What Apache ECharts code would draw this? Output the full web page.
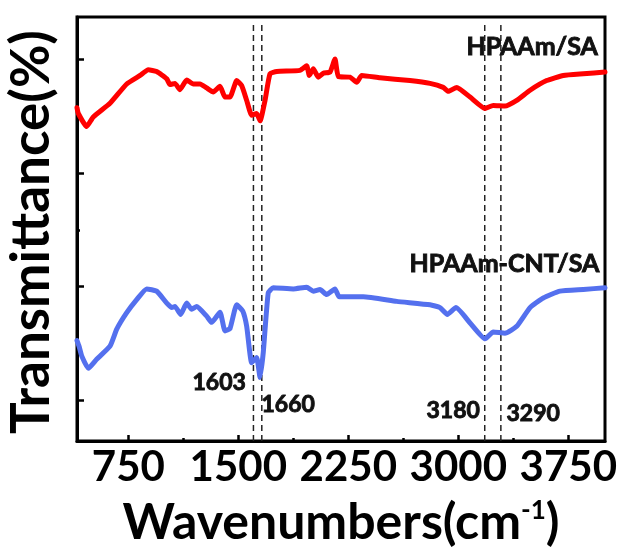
<!DOCTYPE html>
<html>
<head>
<meta charset="utf-8">
<script src="https://cdn.jsdelivr.net/npm/echarts@6/dist/echarts.min.js"></script>
<style>
  html, body { margin: 0; padding: 0; background: #fff; }
  #chart { width: 622px; height: 554px; }
</style>
</head>
<body>
<div id="chart"></div>
<script>
// FTIR spectra
const redWave = [400, 409, 466, 511, 625, 739, 830, 886, 943, 1012, 1034, 1068, 1102, 1148, 1193, 1239, 1284, 1329, 1375, 1409, 1443, 1489, 1523, 1557, 1591, 1625, 1648, 1682, 1716, 1762, 1920, 1966, 1984, 2011, 2045, 2079, 2125, 2159, 2182, 2261, 2307, 2341, 2466, 2670, 2807, 2897, 2932, 2989, 3080, 3182, 3238, 3318, 3398, 3489, 3602, 3716, 3852, 4000];
const redT = [51.5, 50.5, 48.2, 49.9, 52.3, 55.7, 57.2, 58.2, 57.9, 56.6, 55.6, 55.8, 54.7, 56.4, 55.7, 55.7, 55.0, 54.3, 55.3, 53.4, 53.4, 56.3, 55.4, 52.8, 50.2, 50.5, 49.2, 52.8, 57.5, 57.9, 58.1, 58.9, 57.2, 58.4, 56.9, 57.6, 57.8, 60.1, 57.0, 56.9, 56.0, 57.2, 56.8, 56.3, 55.8, 55.1, 54.4, 55.1, 53.4, 51.4, 51.9, 51.8, 52.8, 54.6, 56.3, 57.2, 57.5, 57.8];

const blueWave = [400, 414, 432, 477, 534, 625, 671, 739, 807, 875, 943, 1012, 1046, 1068, 1107, 1148, 1182, 1216, 1284, 1318, 1375, 1409, 1443, 1489, 1530, 1557, 1591, 1625, 1648, 1670, 1704, 1738, 1875, 1966, 2011, 2057, 2102, 2159, 2188, 2352, 2580, 2807, 2875, 2925, 2984, 3080, 3182, 3238, 3318, 3398, 3489, 3579, 3693, 3852, 4000];
const blueT = [10.5, 9.5, 7.8, 5.6, 7.2, 9.5, 12.5, 15.4, 17.7, 19.6, 19.2, 17.1, 16.3, 16.5, 15.1, 17.1, 16.0, 16.5, 14.8, 13.7, 15.5, 12.2, 12.6, 16.8, 15.7, 13.0, 6.6, 7.5, 4.0, 8.4, 18.9, 19.8, 19.6, 19.9, 19.2, 19.5, 18.6, 19.6, 18.2, 18.2, 17.4, 16.8, 16.3, 15.1, 16.3, 13.6, 10.8, 12.0, 11.8, 13.0, 16.3, 18.0, 19.2, 19.5, 19.8];

const peakMarks = [1603, 1660, 3180, 3290];
const xMajorTicks = [750, 1500, 2250, 3000, 3750];
const xMinorTicks = [1125, 1875, 2625, 3375];
const yMajorTicks = [0, 20, 40, 60];
const yMinorTicks = [10, 30, 50];

const X_MIN = 400, X_MAX = 4000, Y_MIN = -7.2, Y_MAX = 67.5;
const FONT = 'Lato';

const zip = (xs, ys) => xs.map((x, i) => [x, ys[i]]);

const chart = echarts.init(document.getElementById('chart'));

const baseX = {
  type: 'value', min: X_MIN, max: X_MAX, position: 'bottom',
  splitLine: {show: false}
};
const baseY = {
  type: 'value', min: Y_MIN, max: Y_MAX, position: 'left',
  splitLine: {show: false}
};

const dashSeries = peakMarks.map(w => ({
  type: 'line',
  xAxisIndex: 0, yAxisIndex: 0,
  data: [[w, Y_MIN], [w, 66.5]],
  showSymbol: false, silent: true,
  lineStyle: {color: '#222', width: 1.5, type: [6, 4]},
  z: 1
}));

function annot(text, left, top, size) {
  return {
    type: 'text', left: left, top: top, z: 10,
    style: {
      text: text, fontFamily: FONT, fontWeight: 'bold', fontSize: size,
      fill: '#111', stroke: '#111', lineWidth: 0.9
    }
  };
}

const option = {
  backgroundColor: '#fff',
  animation: false,
  grid: {
    left: 77, top: 17, right: 17, bottom: 113,
    outerBoundsMode: 'none', containLabel: false,
    show: true, borderColor: '#000', borderWidth: 3
  },
  xAxis: [
    Object.assign({}, baseX, {
      name: '{a|Wavenumbers(cm}{s|-1}{a|)}',
      nameLocation: 'middle', nameGap: 57,
      nameTextStyle: {
        rich: {
          a: {fontFamily: FONT, fontWeight: 'bold', fontSize: 50, color: '#000'},
          s: {fontFamily: FONT, fontWeight: 'bold', fontSize: 26, color: '#000', padding: [0, 0, 24, 0]}
        }
      },
      axisLine: {show: true, onZero: false, lineStyle: {color: '#000', width: 3}},
      axisTick: {show: true, inside: true, length: 6, lineStyle: {color: '#000', width: 2.5}, customValues: xMajorTicks},
      axisLabel: {
        show: true, customValues: xMajorTicks, margin: 5,
        formatter: v => String(v),
        fontFamily: FONT, fontWeight: 'bold', fontSize: 42, color: '#000'
      }
    }),
    Object.assign({}, baseX, {
      axisLine: {show: false, onZero: false},
      axisTick: {show: true, inside: true, length: 3, lineStyle: {color: '#000', width: 2.5}, customValues: xMinorTicks},
      axisLabel: {show: false}
    })
  ],
  yAxis: [
    Object.assign({}, baseY, {
      name: 'Transmittance(%)',
      nameLocation: 'middle', nameGap: 19, nameRotate: 90,
      nameTextStyle: {fontFamily: FONT, fontWeight: 'bold', fontSize: 53, color: '#000', padding: [0, 6, 0, 0]},
      axisLine: {show: true, onZero: false, lineStyle: {color: '#000', width: 3}},
      axisTick: {show: true, inside: true, length: 7, lineStyle: {color: '#000', width: 2.5}, customValues: yMajorTicks},
      axisLabel: {show: false}
    }),
    Object.assign({}, baseY, {
      axisLine: {show: false, onZero: false},
      axisTick: {show: true, inside: true, length: 3, lineStyle: {color: '#000', width: 2.5}, customValues: yMinorTicks},
      axisLabel: {show: false}
    })
  ],
  series: dashSeries.concat([
    {
      name: 'HPAAm/SA', type: 'line',
      data: zip(redWave, redT),
      showSymbol: false, smooth: 0.15,
      lineStyle: {color: '#ff0000', width: 5, cap: 'round', join: 'round'},
      z: 3
    },
    {
      name: 'HPAAm-CNT/SA', type: 'line',
      data: zip(blueWave, blueT),
      showSymbol: false, smooth: 0.15,
      lineStyle: {color: '#5470ee', width: 5, cap: 'round', join: 'round'},
      z: 3
    }
  ]),
  graphic: [
    annot('HPAAm/SA', 466, 34, 25),
    annot('HPAAm-CNT/SA', 409, 251, 25),
    annot('1603', 192, 371, 23),
    annot('1660', 261, 393, 23),
    annot('3180', 426, 399, 23),
    annot('3290', 506, 402, 23)
  ]
};

chart.setOption(option);
</script>
</body>
</html>
